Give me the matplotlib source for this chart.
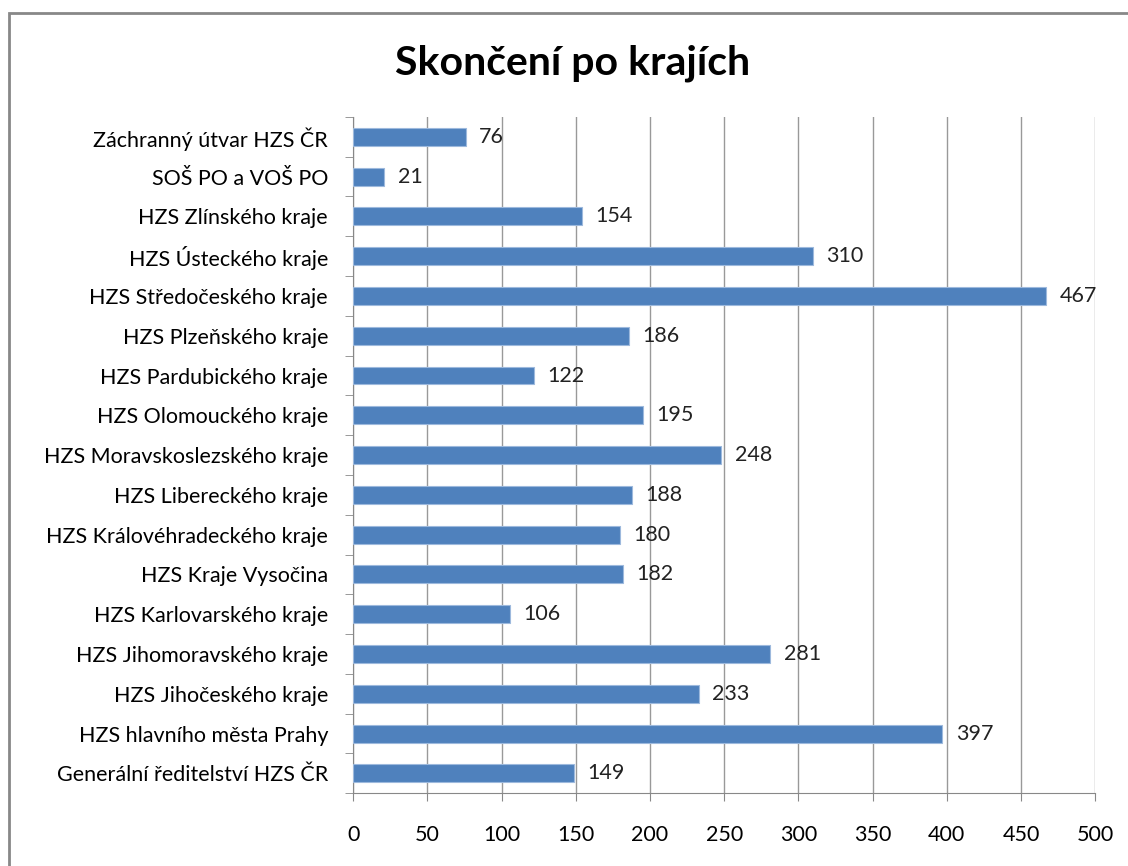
import matplotlib.pyplot as plt
from matplotlib.patches import Rectangle

plt.rcParams['font.family'] = ['Lato', 'DejaVu Sans']

# categories listed bottom to top
kraje = [
    'Generální ředitelství HZS ČR',
    'HZS hlavního města Prahy',
    'HZS Jihočeského kraje',
    'HZS Jihomoravského kraje',
    'HZS Karlovarského kraje',
    'HZS Kraje Vysočina',
    'HZS Královéhradeckého kraje',
    'HZS Libereckého kraje',
    'HZS Moravskoslezského kraje',
    'HZS Olomouckého kraje',
    'HZS Pardubického kraje',
    'HZS Plzeňského kraje',
    'HZS Středočeského kraje',
    'HZS Ústeckého kraje',
    'HZS Zlínského kraje',
    'SOŠ PO a VOŠ PO',
    'Záchranný útvar HZS ČR',
]
pocty = [149, 397, 233, 281, 106, 182, 180, 188, 248, 195, 122, 186, 467, 310, 154, 21, 76]
xticks = list(range(0, 501, 50))

fig = plt.figure(figsize=(11.28, 8.66), dpi=100)
ax = fig.add_axes([0.313, 0.084, 0.658, 0.781])

pos = range(len(kraje))
ax.barh(pos, pocty, height=0.45, color='#4F81BD', edgecolor='#9DB9DD', linewidth=0.8, zorder=3)

for y, v in zip(pos, pocty):
    ax.text(v + 9, y, str(v), va='center', ha='left', fontsize=15.5, color='#222222', zorder=4)

ax.set_xlim(0, 500)
ax.set_ylim(-0.5, len(kraje) - 0.5)
ax.set_xticks(xticks)
ax.set_xticklabels([str(t) for t in xticks], fontsize=15.5)
ax.set_yticks(list(pos))
ax.set_yticklabels(kraje, fontsize=15.5)
ax.set_yticks([p - 0.5 for p in range(len(kraje) + 1)], minor=True)
ax.tick_params(axis='y', which='major', length=0, pad=18)
ax.tick_params(axis='y', which='minor', length=6, color='#888888')
ax.tick_params(axis='x', length=6, color='#888888', pad=17)
ax.grid(axis='x', color='#999999', linewidth=1, zorder=0)
for s in ['top', 'right']:
    ax.spines[s].set_visible(False)
for s in ['left', 'bottom']:
    ax.spines[s].set_color('#888888')

fig.text(0.508, 0.927, 'Skončení po krajích', ha='center', va='center',
         fontsize=29.5, fontweight='bold')

fig.patches.append(Rectangle((0.008, -0.05), 1.1, 1.035, transform=fig.transFigure,
                             fill=False, edgecolor='#888888', linewidth=2))

fig.savefig('out.png', dpi=100)
